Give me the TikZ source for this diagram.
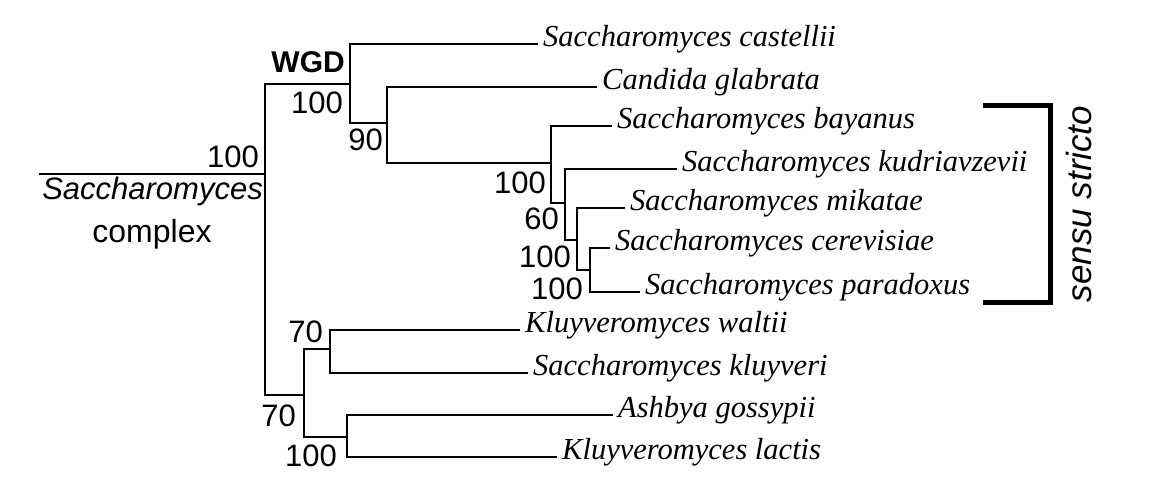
\documentclass[tikz,border=0pt]{standalone}
\usepackage{fontspec}
\setmainfont{Liberation Serif}
\setsansfont{Liberation Sans}
\usepackage{tikz}
\usetikzlibrary{positioning}

\tikzset{
  branch/.style={line width=2.5pt, line cap=rect},
  taxon/.style={anchor=west, inner xsep=6pt, inner ysep=0pt, text height=0.68em, text depth=0.2em,
    font=\fontsize{30.5}{36}\selectfont\itshape},
  support/.style={anchor=east, inner sep=0pt, font=\sffamily\fontsize{31}{36}\selectfont},
}

\begin{document}
\begin{tikzpicture}[x=1pt, y=-1pt]
\useasboundingbox (0,0) rectangle (1151,491);

% inner nodes of the tree
\coordinate (base) at (40,174);
\coordinate (nA) at (265,174);
\coordinate (nWGD) at (350,84);
\coordinate (nB) at (387,123);
\coordinate (nC) at (551,163);
\coordinate (nD) at (565,203);
\coordinate (nE) at (577,240);
\coordinate (nF) at (590,270);
\coordinate (nG) at (304,395);
\coordinate (nH) at (330,349);
\coordinate (nI) at (347,437);

% taxa
\node[taxon] (cas) at (537,44) {Saccharomyces castellii};
\node[taxon] (gla) at (596,87) {Candida glabrata};
\node[taxon] (bay) at (611,126) {Saccharomyces bayanus};
\node[taxon] (kud) at (676,169) {Saccharomyces kudriavzevii};
\node[taxon] (mik) at (624,208) {Saccharomyces mikatae};
\node[taxon] (cer) at (609,248) {Saccharomyces cerevisiae};
\node[taxon] (par) at (639,292) {Saccharomyces paradoxus};
\node[taxon] (wal) at (519,330) {Kluyveromyces waltii};
\node[taxon] (klu) at (527,373) {Saccharomyces kluyveri};
\node[taxon] (ash) at (612,415) {Ashbya gossypii};
\node[taxon] (lac) at (556,457) {Kluyveromyces lactis};

% branches
\draw[branch] (base) -- (nA);
\draw[branch] (nA) |- (nWGD);
\draw[branch] (nA) |- (nG);
\draw[branch] (nWGD) |- (cas.west);
\draw[branch] (nWGD) |- (nB);
\draw[branch] (nB) |- (gla.west);
\draw[branch] (nB) |- (nC);
\draw[branch] (nC) |- (bay.west);
\draw[branch] (nC) |- (nD);
\draw[branch] (nD) |- (kud.west);
\draw[branch] (nD) |- (nE);
\draw[branch] (nE) |- (mik.west);
\draw[branch] (nE) |- (nF);
\draw[branch] (nF) |- (cer.west);
\draw[branch] (nF) |- (par.west);
\draw[branch] (nG) |- (nH);
\draw[branch] (nG) |- (nI);
\draw[branch] (nH) |- (wal.west);
\draw[branch] (nH) |- (klu.west);
\draw[branch] (nI) |- (ash.west);
\draw[branch] (nI) |- (lac.west);

% support values
\node[support] (sRoot) at (259,157) {100};
\node[support, font=\sffamily\bfseries\fontsize{30}{36}\selectfont] (wgd) at (345,62) {WGD};
\node[support] (sWGD) at (343,103) {100};
\node[support] (sB) at (383,140) {90};
\node[support] (sC) at (546,183) {100};
\node[support] (sD) at (559,219) {60};
\node[support] (sE) at (571,257) {100};
\node[support] (sF) at (583,289) {100};
\node[support] (sH) at (323,332) {70};
\node[support] (sG) at (296,416) {70};
\node[support] (sI) at (337,456) {100};

% complex label
\node[support, font=\sffamily\itshape\fontsize{31}{36}\selectfont] (cplx1) at (263,191) {Saccharomyces};
\node[inner sep=0pt, font=\sffamily\fontsize{32}{36}\selectfont] (cplx2) at (152,234) {complex};

% sensu stricto bracket
\coordinate (brTop) at (983,105);
\coordinate (brBot) at (983,302);
\draw[line width=5pt] (brTop) -- ++(67,0) |- (brBot);
\node[rotate=90, inner sep=0pt, font=\sffamily\itshape\fontsize{35}{40}\selectfont] (sensu) at (1079,204) {sensu stricto};
\end{tikzpicture}
\end{document}
